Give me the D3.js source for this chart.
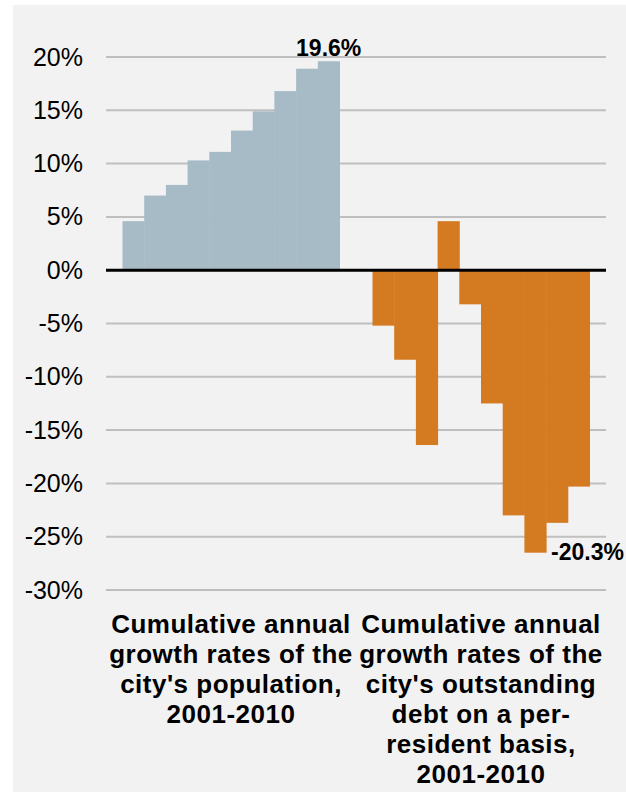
<!DOCTYPE html>
<html>
<head>
<meta charset="utf-8">
<script src="https://cdn.jsdelivr.net/npm/d3@7"></script>
<style>
  body { margin: 0; background: #ffffff; }
  svg { display: block; font-family: "Liberation Sans", Arial, sans-serif; }
</style>
</head>
<body>
<div id="chart"></div>
<script>
// Two groups, ten yearly bars each
const categories = ["population", "debt"];
const years = ["2001", "2002", "2003", "2004", "2005", "2006", "2007", "2008", "2009", "2010"];
const populationGrowth = [4.6, 7.0, 8.0, 10.3, 11.1, 13.1, 14.9, 16.8, 18.9, 19.6];
const debtGrowth = [-5.2, -8.4, -16.4, 4.6, -3.2, -12.5, -23.0, -26.5, -23.7, -20.3];
const tickValues = [20, 15, 10, 5, 0, -5, -10, -15, -20, -25, -30];
const categoryLabels = [
  ["Cumulative annual", "growth rates of the", "city's population,", "2001-2010"],
  ["Cumulative annual", "growth rates of the", "city's outstanding", "debt on a per-", "resident basis,", "2001-2010"]
];
const seriesColors = ["#a7bbc7", "#d47b22"];

const width = 626;
const height = 792;
const margin = { top: 57, right: 20, bottom: 202, left: 106 };

const svg = d3.select("#chart")
  .append("svg")
  .attr("width", width)
  .attr("height", height);

// Grey panel
svg.append("rect")
  .attr("x", 13)
  .attr("y", 5)
  .attr("width", width - 13)
  .attr("height", height - 5)
  .attr("fill", "#f2f2f2");

const xScale = d3.scaleBand()
  .domain(categories)
  .range([margin.left, width - margin.right]);

const xInner = d3.scaleBand()
  .domain(years)
  .range([0, xScale.bandwidth()])
  .paddingInner(0)
  .paddingOuter(0.76);

const yScale = d3.scaleLinear()
  .domain([-30, 20])
  .range([height - margin.bottom, margin.top]);

// Gridlines
svg.append("g")
  .selectAll("line")
  .data(tickValues.filter(d => d !== 0))
  .enter()
  .append("line")
  .attr("x1", margin.left)
  .attr("x2", width - margin.right)
  .attr("y1", d => yScale(d))
  .attr("y2", d => yScale(d))
  .attr("stroke", "#bfbfbf")
  .attr("stroke-width", 2);

// Y axis labels
const yAxis = d3.axisLeft(yScale)
  .tickValues(tickValues)
  .tickSize(0)
  .tickPadding(23)
  .tickFormat(d => d + "%");

svg.append("g")
  .attr("transform", `translate(${margin.left},0)`)
  .call(yAxis)
  .call(g => g.select(".domain").remove())
  .call(g => g.selectAll("text")
    .attr("fill", "#000")
    .style("font-family", "'Liberation Sans', Arial, sans-serif")
    .style("font-size", "25px"));

// Bars
const seriesData = [populationGrowth, debtGrowth];

categories.forEach(function (cat, i) {
  svg.append("g")
    .selectAll("rect")
    .data(seriesData[i])
    .enter()
    .append("rect")
    .attr("x", (d, j) => xScale(cat) + xInner(years[j]))
    .attr("width", xInner.bandwidth() + 0.5)
    .attr("y", d => yScale(Math.max(0, d)))
    .attr("height", d => Math.abs(yScale(d) - yScale(0)))
    .attr("fill", seriesColors[i]);
});

// Zero line
svg.append("line")
  .attr("x1", margin.left)
  .attr("x2", width - margin.right)
  .attr("y1", yScale(0))
  .attr("y2", yScale(0))
  .attr("stroke", "#000")
  .attr("stroke-width", 3);

// Data labels
const lastPop = populationGrowth[populationGrowth.length - 1];
svg.append("text")
  .attr("x", xScale("population") + xInner(years[years.length - 1]) + xInner.bandwidth() / 2)
  .attr("y", yScale(lastPop) - 5)
  .attr("text-anchor", "middle")
  .style("font-size", "23px")
  .style("font-weight", "bold")
  .text(lastPop.toFixed(1) + "%");

const lastDebt = debtGrowth[debtGrowth.length - 1];
const minIdx = debtGrowth.indexOf(d3.min(debtGrowth));
svg.append("text")
  .attr("x", xScale("debt") + xInner(years[minIdx]) + xInner.bandwidth() + 5)
  .attr("y", yScale(debtGrowth[minIdx]) + 7)
  .attr("text-anchor", "start")
  .style("font-size", "23px")
  .style("font-weight", "bold")
  .text(lastDebt.toFixed(1) + "%");

// Category labels
categories.forEach(function (cat, i) {
  const t = svg.append("text")
    .attr("x", xScale(cat) + xScale.bandwidth() / 2)
    .attr("y", 633)
    .attr("text-anchor", "middle")
    .style("font-size", "26px")
    .style("font-weight", "bold")
    .style("letter-spacing", "0.5px");
  categoryLabels[i].forEach(function (line, k) {
    t.append("tspan")
      .attr("x", xScale(cat) + xScale.bandwidth() / 2)
      .attr("y", 633 + k * 30)
      .text(line);
  });
});
</script>
</body>
</html>
